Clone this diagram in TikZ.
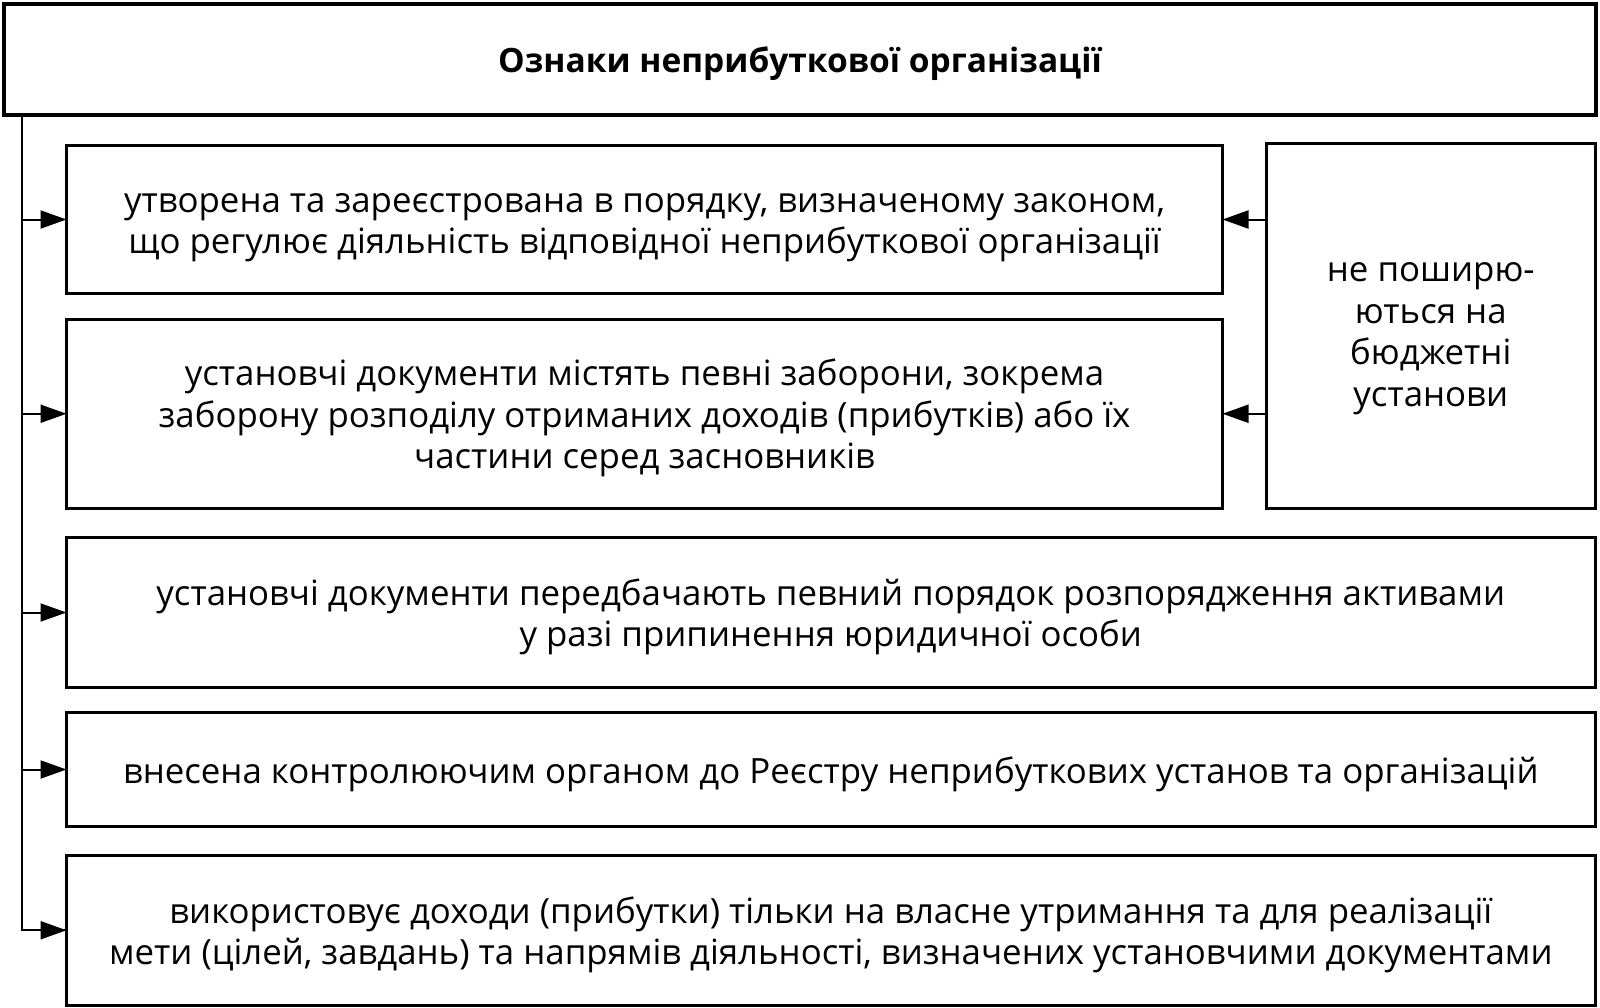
\documentclass[tikz,border=0pt]{standalone}
\usepackage{fontspec}
\setmainfont{Open Sans}
\usetikzlibrary{arrows.meta}
\newcommand{\topstrut}[1]{\rule{0pt}{#1}}
\newcommand{\botstrut}{\rule[-10pt]{0pt}{0pt}}
\begin{document}
\begin{tikzpicture}[x=1pt,y=-1pt,
  every node/.style={inner sep=0pt, outer sep=0pt},
  thinbox/.style={draw=black, line width=3pt, anchor=north west, align=center,
    font=\fontsize{34.8}{41.5}\selectfont},
  titlebox/.style={draw=black, line width=4.3pt, anchor=north west, align=center,
    font=\fontsize{33.5}{40}\selectfont\bfseries},
  arr/.style={line width=2pt, -{Triangle[length=26pt,width=18pt]}},
  spine/.style={line width=2pt}
]
\useasboundingbox (0,0) rectangle (1600,1007);
\fill[white] (0,0) rectangle (1600,1007);

\node[titlebox, minimum width=1592pt, minimum height=111pt] (title) at (4,4)
  {\topstrut{36pt}Ознаки неприбуткової організації\botstrut};

\node[thinbox, minimum width=1156pt, minimum height=148pt] (b1) at (66.5,145.5)
  {\topstrut{37pt}утворена та зареєстрована в порядку, визначеному законом,\\
   що регулює діяльність відповідної неприбуткової організації\botstrut};

\node[thinbox, minimum width=1156pt, minimum height=188.5pt] (b2) at (66.5,319.5)
  {\topstrut{37pt}установчі документи містять певні заборони, зокрема\\
   заборону розподілу отриманих доходів (прибутків) або їх\\
   частини серед засновників\botstrut};

\node[thinbox, minimum width=328.5pt, minimum height=364.5pt] (rb) at (1266.5,143.5)
  {\topstrut{46pt}не поширю-\\ються на\\бюджетні\\установи\botstrut};

\node[thinbox, minimum width=1528.5pt, minimum height=150pt] (b3) at (66.5,537.5)
  {\topstrut{37pt}установчі документи передбачають певний порядок розпорядження активами\\
   у разі припинення юридичної особи\botstrut};

\node[thinbox, minimum width=1528.5pt, minimum height=114pt] (b4) at (66.5,712.5)
  {\topstrut{37pt}внесена контролюючим органом до Реєстру неприбуткових установ та організацій\botstrut};

\node[thinbox, minimum width=1528.5pt, minimum height=149.5pt] (b5) at (66.5,855.5)
  {\topstrut{37pt}використовує доходи (прибутки) тільки на власне утримання та для реалізації\\
   мети (цілей, завдань) та напрямів діяльності, визначених установчими документами\botstrut};

\coordinate (top) at (21.5,115);
\draw[spine] (top) |- (b5.west);
\draw[arr] (top |- b5.west) -- (b5.west);
\draw[arr] (top |- b1.west) -- (b1.west);
\draw[arr] (top |- b2.west) -- (b2.west);
\draw[arr] (top |- b3.west) -- (b3.west);
\draw[arr] (top |- b4.west) -- (b4.west);

\draw[arr] (rb.west |- b1.east) -- (b1.east);
\draw[arr] (rb.west |- b2.east) -- (b2.east);
\end{tikzpicture}
\end{document}
